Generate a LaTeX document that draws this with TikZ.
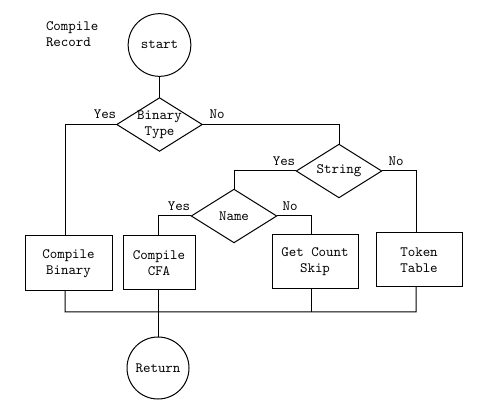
\documentclass[tikz,border=0pt]{standalone}
\usetikzlibrary{shapes.geometric}
\begin{document}
\begin{tikzpicture}[x=0.75pt,y=-0.75pt,
  every node/.style={font=\ttfamily\fontsize{10.7}{11.8}\selectfont, align=center, inner sep=0pt, outer sep=0pt},
  conn/.style={draw=black, line width=0.75pt},
  term/.style={circle, draw=black, line width=0.75pt, minimum size=47pt},
  dia/.style={diamond, draw=black, line width=0.75pt, minimum width=64pt, minimum height=40pt},
  box/.style={rectangle, draw=black, line width=0.75pt},
  lbl/.style={}]
\useasboundingbox (0,0) rectangle (482,420);
\node[anchor=west, align=left] (title) at (46,34) {Compile\\Record};
\node[term] (start) at (159.5,45) {start};
\node[dia] (bt) at (159.5,124.5) {};
\node (btt) at (bt.center) {Binary\\Type};
\node[dia] (st) at (339,171) {};
\node (stt) at (st.center) {String};
\node[dia] (nm) at (234,216) {};
\node (nmt) at (nm.center) {Name};
\node[box, minimum width=65.25pt, minimum height=41.25pt] (cb) at (68.5,263.5) {Compile\\Binary};
\node[box, minimum width=54pt, minimum height=40.5pt] (cfa) at (159,263) {Compile\\CFA};
\node[box, minimum width=64.5pt, minimum height=40.5pt] (gc) at (315,262) {Get Count\\Skip};
\node[box, minimum width=64.5pt, minimum height=40.5pt] (tt) at (419,260) {Token\\Table};
\node[term, minimum size=46.5pt] (ret) at (158,368) {Return};
\node[lbl] (y1) at (105,114) {Yes};
\node[lbl] (n1) at (217,114) {No};
\node[lbl] (y2) at (284,161) {Yes};
\node[lbl] (n2) at (396,161) {No};
\node[lbl] (y3) at (179,206) {Yes};
\node[lbl] (n3) at (290,206) {No};
\coordinate (busL) at (65,312);
\coordinate (busR) at (416,312);
\draw[conn] (start) -- (bt);
\draw[conn] (bt.west) -| ([xshift=-2.6pt]cb.north);
\draw[conn] (bt.east) -| (st.north);
\draw[conn] (st.west) -| (nm.north);
\draw[conn] (st.east) -| ([xshift=-2.25pt]tt.north);
\draw[conn] (nm.west) -| ([xshift=-0.75pt]cfa.north);
\draw[conn] (nm.east) -| ([xshift=-2.6pt]gc.north);
\draw[conn] ([xshift=-2.6pt]cb.south) -- (busL) -- (busR) -- ([xshift=-2.25pt]tt.south);
\draw[conn] ([xshift=-0.75pt]cfa.south) -- ([xshift=-0.75pt]cfa.south |- busL);
\draw[conn] ([xshift=-2.6pt]gc.south) -- ([xshift=-2.6pt]gc.south |- busL);
\draw[conn] (ret.north |- busL) -- (ret.north);
\end{tikzpicture}
\end{document}
